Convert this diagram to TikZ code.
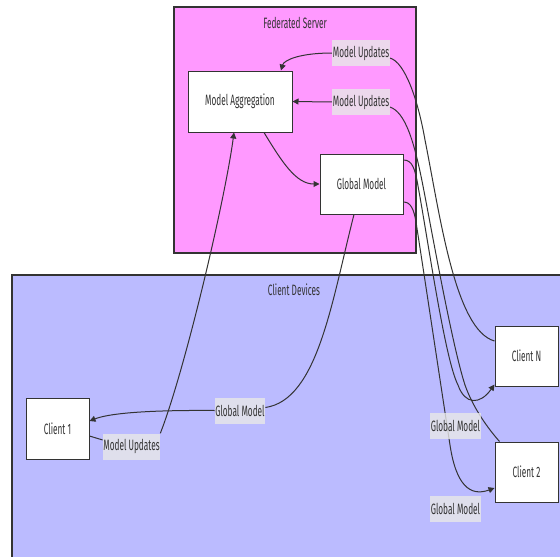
\documentclass[tikz,border=0pt]{standalone}
\usepackage{fontspec}
\setmainfont{Fira Sans}[FakeStretch=0.55]
\usetikzlibrary{arrows.meta}
\definecolor{srv}{HTML}{FF99FF}
\definecolor{cli}{HTML}{BBBBFF}
\definecolor{ink}{HTML}{333333}
\definecolor{labbg}{HTML}{E8E8E8}
\pgfdeclarelayer{bg}
\pgfdeclarelayer{edgelayer}
\pgfsetlayers{bg,edgelayer,main}
\begin{document}
\begin{tikzpicture}[x=1pt,y=-1pt, font=\fontsize{15}{18}\selectfont,
  box/.style={draw=ink, line width=1pt, fill=white, text=ink, inner sep=0pt},
  elab/.style={fill=labbg, fill opacity=0.8, text opacity=1, text=ink, inner xsep=0.5pt, inner ysep=0pt, minimum height=26pt},
  edge/.style={draw=ink, line width=1pt},
  arr/.style={edge, -{Triangle[length=6pt,width=6pt]}},
  grp/.style={draw=ink, line width=1.5pt}]
\useasboundingbox (0,0) rectangle (560,557);
\clip (0,0) rectangle (560,557);
\begin{pgfonlayer}{bg}
\fill[white] (0,0) rectangle (560,557);
\draw[grp, fill=srv] (174,7) rectangle (416,253);
\draw[grp, fill=cli] (12,275) rectangle (580,580);
\end{pgfonlayer}
\node[text=ink] (fs) at (295,23) {Federated Server};
\node[text=ink] (cd) at (294,290) {Client Devices};
% nodes
\node[box, minimum width=104pt, minimum height=61pt] (ma) at (240,101.5) {Model Aggregation};
\node[box, minimum width=83pt, minimum height=60pt] (gm) at (361.5,184) {Global Model};
\node[box, minimum width=63pt, minimum height=61pt] (c1) at (57.5,428.5) {Client 1};
\node[box, minimum width=63pt, minimum height=60pt] (cn) at (526.5,356) {Client N};
\node[box, minimum width=63pt, minimum height=60pt] (c2) at (526.5,472) {Client 2};
% edge labels
\node[elab] (l1) at (361,53) {Model Updates};
\node[elab] (l2) at (361,102) {Model Updates};
\node[elab] (l3) at (240,410.5) {Global Model};
\node[elab] (l4) at (131.5,446.5) {Model Updates};
\node[elab] (l5) at (455.5,426) {Global Model};
\node[elab] (l6) at (455.5,509) {Global Model};
\begin{pgfonlayer}{edgelayer}
% Client 1 -> Model Aggregation
\draw[edge] ([shift={(0,7.5)}]c1.east) -- ([shift={(0,-6.5)}]l4.west);
\draw[arr] (l4.north east) .. controls (185,370) and (225,200) .. ([shift={(-6,0)}]ma.south);
% Model Aggregation -> Global Model
\draw[arr] ([shift={(24,0)}]ma.south) .. controls (282,162) and (296,184) .. (gm.west);
% Global Model -> Client 1
\draw[edge] ([shift={(-7.5,0)}]gm.south) .. controls (332,300) and (318,400) .. ([shift={(0,-3)}]l3.east);
\draw[arr] (l3.west) .. controls (150,410) and (110,413) .. ([shift={(0,-7.5)}]c1.east);
% labels to Model Aggregation
\draw[arr] (l1.west) .. controls (300,53) and (284,60) .. ([shift={(41,0)}]ma.north);
\draw[arr] (l2.west) -- (ma.east);
% Client N -> Model Aggregation
\draw[edge] ([shift={(0,5)}]l1.east) .. controls (405,62) and (418,100) .. (425,140)
  .. controls (440,215) and (455,330) .. ([shift={(0,-15)}]cn.west);
% Client 2 -> Model Aggregation
\draw[edge] ([shift={(0,5)}]l2.east) .. controls (405,112) and (414,140) .. (423,186)
  .. controls (432,232) and (452,345) .. (465,385)
  .. controls (472,405) and (485,425) .. ([shift={(5,0)}]c2.north west);
% Global Model -> Client N
\draw[arr] ([shift={(0,-24)}]gm.east) .. controls (412,160) and (415,168) .. (418,186)
  .. controls (428,240) and (445,360) .. (458,385)
  .. controls (465,405) and (480,405) .. ([shift={(0,-2)}]cn.south west);
% Global Model -> Client 2
\draw[arr] ([shift={(0,18)}]gm.east) .. controls (411,202) and (414,210) .. (416,222)
  .. controls (425,280) and (440,380) .. (450,445)
  .. controls (456,485) and (470,497) .. ([shift={(0,16)}]c2.west);
\end{pgfonlayer}
\end{tikzpicture}
\end{document}
